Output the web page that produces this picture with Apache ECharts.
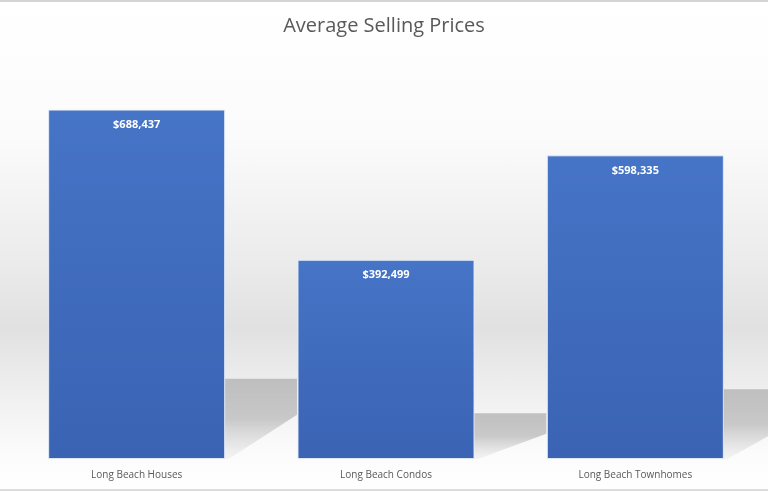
<!DOCTYPE html>
<html lang="en">
<head>
	<meta charset="UTF-8">
	<title>Average Selling Prices</title>
	<style type="text/css">
		html, body { margin: 0; padding: 0; }
		#container {
			width: 768px;
			height: 491px;
			background: linear-gradient(to bottom, #ffffff 0%, #fbfbfb 28%, #ececec 52%, #e1e1e1 67%, #efefef 80%, #fbfbfb 92%, #ffffff 100%);
			border-top: 2px solid #d4d4d4;
			border-bottom: 2px solid #dcdcdc;
			box-sizing: border-box;
		}
	</style>
	<script type="text/javascript" src="https://cdn.jsdelivr.net/npm/echarts@6/dist/echarts.min.js"></script>
</head>
<body>
	<div id="container"></div>
	<script type="text/javascript">
	var categories = ['Long Beach Houses', 'Long Beach Condos', 'Long Beach Townhomes'];
	var prices = [688437, 392499, 598335];

	var dom = document.getElementById("container");
	var myChart = echarts.init(dom);

	function money(v) {
		return '$' + v.toString().replace(/\B(?=(\d{3})+(?!\d))/g, ',');
	}

	// floor shadow behind each bar, about a quarter of the bar's height
	function renderShadow(params, api) {
		var idx = api.value(0);
		var base = api.coord([idx, 0]);
		var top = api.coord([idx, api.value(1) * 0.23]);
		var band = api.size([1, 0])[0];
		var right = base[0] + 88;
		var len = band * 0.29;
		return {
			type: 'polygon',
			shape: {
				points: [
					[right, top[1]],
					[right + len, top[1]],
					[right + len, top[1] + (base[1] - top[1]) * 0.45],
					[right + 4, base[1]],
					[right, base[1]]
				]
			},
			style: {
				fill: new echarts.graphic.LinearGradient(0, 0, 0, 1, [
					{offset: 0, color: 'rgba(175,175,175,0.75)'},
					{offset: 0.5, color: 'rgba(170,170,170,0.6)'},
					{offset: 1, color: 'rgba(200,200,200,0.15)'}
				])
			},
			z2: 0
		};
	}

	var option = {
		title: {
			text: 'Average Selling Prices',
			left: 'center',
			top: 9,
			textStyle: {
				fontFamily: 'Open Sans',
				fontSize: 20,
				fontWeight: 'normal',
				color: '#595959'
			}
		},
		grid: {
			left: 12,
			right: 8,
			top: 51,
			bottom: 30
		},
		xAxis: {
			type: 'category',
			data: categories,
			axisLine: {show: false},
			axisTick: {show: false},
			axisLabel: {
				margin: 11,
				fontFamily: 'Open Sans',
				fontSize: 10,
				color: '#595959'
			}
		},
		yAxis: {
			type: 'value',
			min: 0,
			max: 800000,
			show: false,
			splitLine: {show: false}
		},
		series: [
			{
				type: 'custom',
				renderItem: renderShadow,
				data: prices.map(function (v, i) { return [i, v]; }),
				z: 1,
				silent: true
			},
			{
				type: 'bar',
				data: prices,
				barWidth: 177,
				z: 2,
				itemStyle: {
					color: new echarts.graphic.LinearGradient(0, 0, 0, 1, [
						{offset: 0, color: '#4674c6'},
						{offset: 1, color: '#3a63b3'}
					]),
					borderColor: 'rgba(230,238,250,0.9)',
					borderWidth: 1
				},
				label: {
					show: true,
					position: 'insideTop',
					distance: 10,
					formatter: function (p) { return money(p.value); },
					fontFamily: 'Open Sans',
					fontSize: 11,
					fontWeight: 'bold',
					color: '#ffffff'
				}
			}
		]
	};

	myChart.setOption(option, true);
	</script>
</body>
</html>
